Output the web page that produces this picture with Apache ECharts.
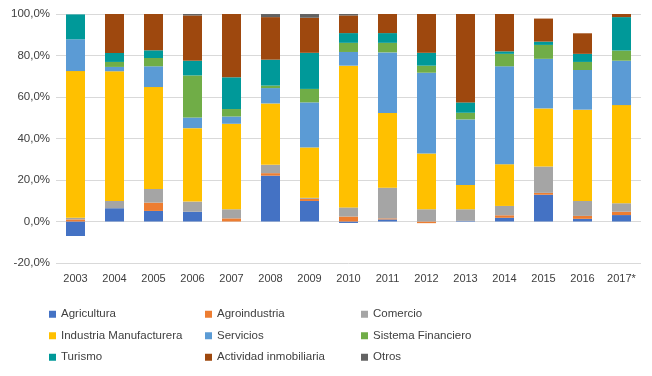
<!DOCTYPE html>
<html>
<head>
<meta charset="utf-8">
<script src="https://cdn.jsdelivr.net/npm/echarts@6/dist/echarts.min.js"></script>
<style>
  html, body { margin: 0; padding: 0; background: #fff; }
  #chart { width: 652px; height: 376px; }
</style>
</head>
<body>
<div id="chart"></div>
<script>
// Sectores por año (% del total)
var years = ['2003', '2004', '2005', '2006', '2007', '2008', '2009', '2010', '2011', '2012', '2013', '2014', '2015', '2016', '2017*'];
var yTicks = [-20, 0, 20, 40, 60, 80, 100];

var agricultura = [-7.0, 6.4, 5.1, 4.7, 0, 22.1, 9.9, -0.7, 1.0, 0, 0.3, 1.8, 12.9, 1.3, 3.1];
var agroindustria = [1.0, 0, 4.0, 0, 1.5, 1.2, 1.0, 2.4, 0.5, -0.8, 0, 1.2, 0.9, 1.4, 1.6];
var comercio = [0.8, 3.5, 6.6, 4.9, 4.4, 4.0, 0.5, 4.4, 14.8, 5.9, 5.6, 4.5, 12.7, 7.2, 4.1];
var industria = [70.7, 62.5, 49.1, 35.4, 41.2, 29.6, 24.3, 68.3, 36.0, 26.9, 11.7, 20.1, 28.0, 44.0, 47.3];
var servicios = [15.3, 2.1, 10.0, 5.1, 3.5, 7.4, 21.7, 6.6, 29.2, 38.9, 31.6, 47.2, 23.9, 19.1, 21.4];
var sistemaFinanciero = [0, 2.4, 4.0, 20.3, 3.6, 1.2, 6.5, 4.4, 4.6, 3.4, 3.2, 6.0, 6.7, 3.9, 4.9];
var turismo = [12.0, 4.3, 3.7, 7.1, 15.3, 12.5, 17.4, 4.7, 4.7, 6.2, 5.0, 1.2, 1.6, 3.9, 16.1];
var inmobiliaria = [0, 18.8, 17.5, 21.8, 30.5, 20.5, 16.9, 8.5, 9.2, 18.7, 42.6, 18.0, 11.1, 9.9, 1.5];
var otros = [0, 0, 0, 0.7, 0, 1.5, 1.8, 0.7, 0, 0, 0, 0, 0, 0, 0];

var seriesDefs = [
    { name: 'Agricultura', data: agricultura, color: '#4472C4' },
    { name: 'Agroindustria', data: agroindustria, color: '#ED7D31' },
    { name: 'Comercio', data: comercio, color: '#A5A5A5' },
    { name: 'Industria Manufacturera', data: industria, color: '#FFC000' },
    { name: 'Servicios', data: servicios, color: '#5B9BD5' },
    { name: 'Sistema Financiero', data: sistemaFinanciero, color: '#70AD47' },
    { name: 'Turismo', data: turismo, color: '#009999' },
    { name: 'Actividad inmobiliaria', data: inmobiliaria, color: '#9E480E' },
    { name: 'Otros', data: otros, color: '#636363' }
];

var legendColumns = [
    ['Agricultura', 'Industria Manufacturera', 'Turismo'],
    ['Agroindustria', 'Servicios', 'Actividad inmobiliaria'],
    ['Comercio', 'Sistema Financiero', 'Otros']
];
var legendLeft = [49, 205, 361];

var font = '"Liberation Sans", Arial, sans-serif';

document.addEventListener('DOMContentLoaded', () => {
    var chart = echarts.init(document.querySelector('#chart'));
    chart.setOption({
        animation: false,
        grid: { left: 56, right: 11, top: 14, bottom: 113 },
        legend: legendColumns.map((col, i) => ({
            data: col,
            orient: 'vertical',
            left: legendLeft[i],
            top: 307,
            padding: 0,
            itemWidth: 7,
            itemHeight: 7,
            itemGap: 7,
            icon: 'rect',
            textStyle: { color: '#404040', fontSize: 11.5, fontFamily: font, lineHeight: 14.5 }
        })),
        xAxis: {
            type: 'category',
            data: years,
            axisLine: { show: false, onZero: false },
            axisTick: { show: false },
            axisLabel: { color: '#404040', fontSize: 11, fontFamily: font, margin: 10, interval: 0 }
        },
        yAxis: {
            type: 'value',
            min: yTicks[0],
            max: yTicks[yTicks.length - 1],
            interval: 20,
            axisLabel: {
                color: '#404040', fontSize: 11.5, fontFamily: font, margin: 6,
                formatter: v => v.toFixed(1).replace('.', ',') + '%'
            },
            splitLine: { lineStyle: { color: '#D9D9D9', width: 1 } }
        },
        series: seriesDefs.map(s => ({
            name: s.name,
            type: 'bar',
            stack: 'total',
            barWidth: 19,
            data: s.data,
            itemStyle: { color: s.color }
        }))
    });
});
</script>
</body>
</html>
